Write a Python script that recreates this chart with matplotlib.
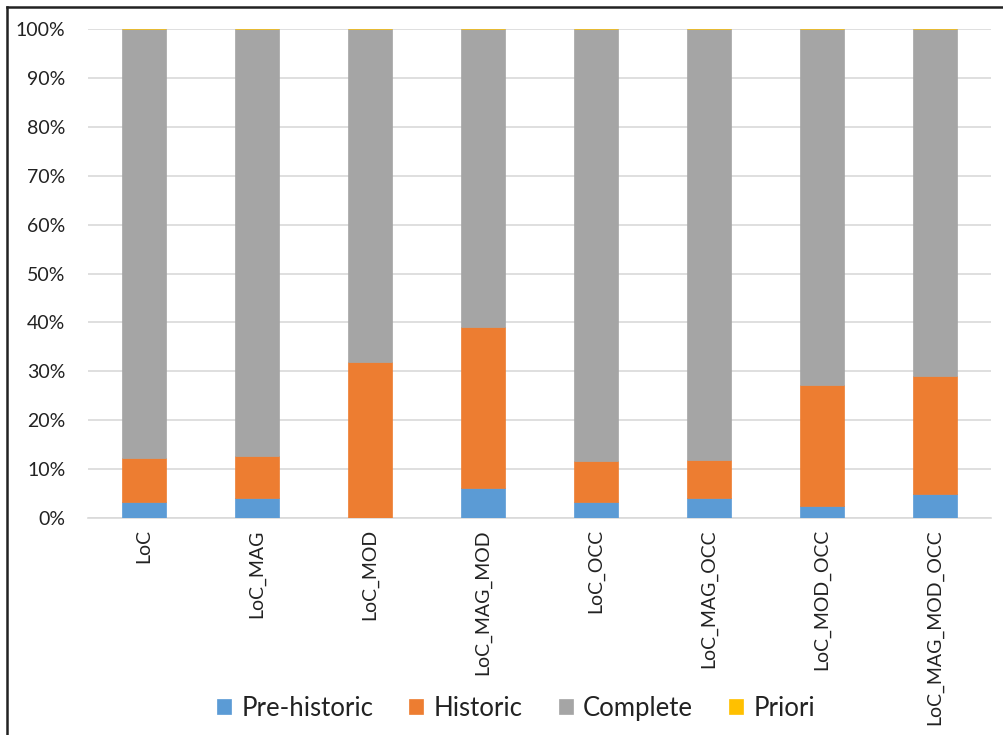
import numpy as np
import matplotlib
matplotlib.use('Agg')
import matplotlib.pyplot as plt
from matplotlib.lines import Line2D
from matplotlib.ticker import PercentFormatter

plt.rcParams['font.family'] = ['Lato', 'DejaVu Sans']

categories = ['LoC', 'LoC_MAG', 'LoC_MOD', 'LoC_MAG_MOD',
              'LoC_OCC', 'LoC_MAG_OCC', 'LoC_MOD_OCC', 'LoC_MAG_MOD_OCC']
# shares in percent of each run
pre_historic = [3.3, 4.0, 0.0, 6.1, 3.3, 4.0, 2.4, 4.9]
historic = [8.9, 8.6, 31.9, 32.9, 8.3, 7.8, 24.9, 24.1]
priori = [0, 0, 0, 0, 0, 0, 0, 0]
complete = [100 - p - h - q for p, h, q in zip(pre_historic, historic, priori)]

series = [
    ('Pre-historic', pre_historic, '#5B9BD5'),
    ('Historic', historic, '#ED7D31'),
    ('Complete', complete, '#A5A5A5'),
    ('Priori', priori, '#FFC000'),
]

fig = plt.figure(figsize=(10.04, 7.35), dpi=100)
ax = fig.add_axes([0.0872, 0.2952, 0.9003, 0.6653])

x = np.arange(len(categories))
bottom = np.zeros(len(categories))
for name, vals, color in series:
    vals = np.array(vals, dtype=float)
    ax.bar(x, vals, width=0.39, bottom=bottom, color=color, label=name,
           edgecolor=color, linewidth=0.5, zorder=3)
    bottom += vals

ax.set_xlim(-0.5, len(categories) - 0.5)
ax.set_ylim(0, 100)
ax.set_yticks(np.arange(0, 101, 10))
ax.yaxis.set_major_formatter(PercentFormatter(decimals=0))
ax.set_xticks(x)
ax.set_xticklabels(categories, rotation=90, va='top', ha='center')
ax.tick_params(axis='both', length=0, labelsize=14, colors='#222222')
ax.tick_params(axis='x', pad=8)
ax.tick_params(axis='y', pad=16)
ax.grid(axis='y', color='#D9D9D9', linewidth=1.2, zorder=0)
for s in ['top', 'right', 'left']:
    ax.spines[s].set_visible(False)
ax.spines['bottom'].set_color('#D9D9D9')
ax.spines['bottom'].set_linewidth(1.2)

ax.legend(loc='center', bbox_to_anchor=(0.514, 0.0367), bbox_transform=fig.transFigure,
          ncol=4, frameon=False, fontsize=18.5, handlelength=0.55, handleheight=0.55,
          handletextpad=0.4, columnspacing=1.4, labelcolor='#222222')

# outer frame (top and left edges)
fig.add_artist(Line2D([7 / 1004, 1], [1 - 6.5 / 735, 1 - 6.5 / 735],
                      transform=fig.transFigure, color='#222222', linewidth=1.8))
fig.add_artist(Line2D([7 / 1004, 7 / 1004], [0, 1 - 6.5 / 735],
                      transform=fig.transFigure, color='#222222', linewidth=1.8))

fig.savefig('out.png', dpi=100, facecolor='white')
